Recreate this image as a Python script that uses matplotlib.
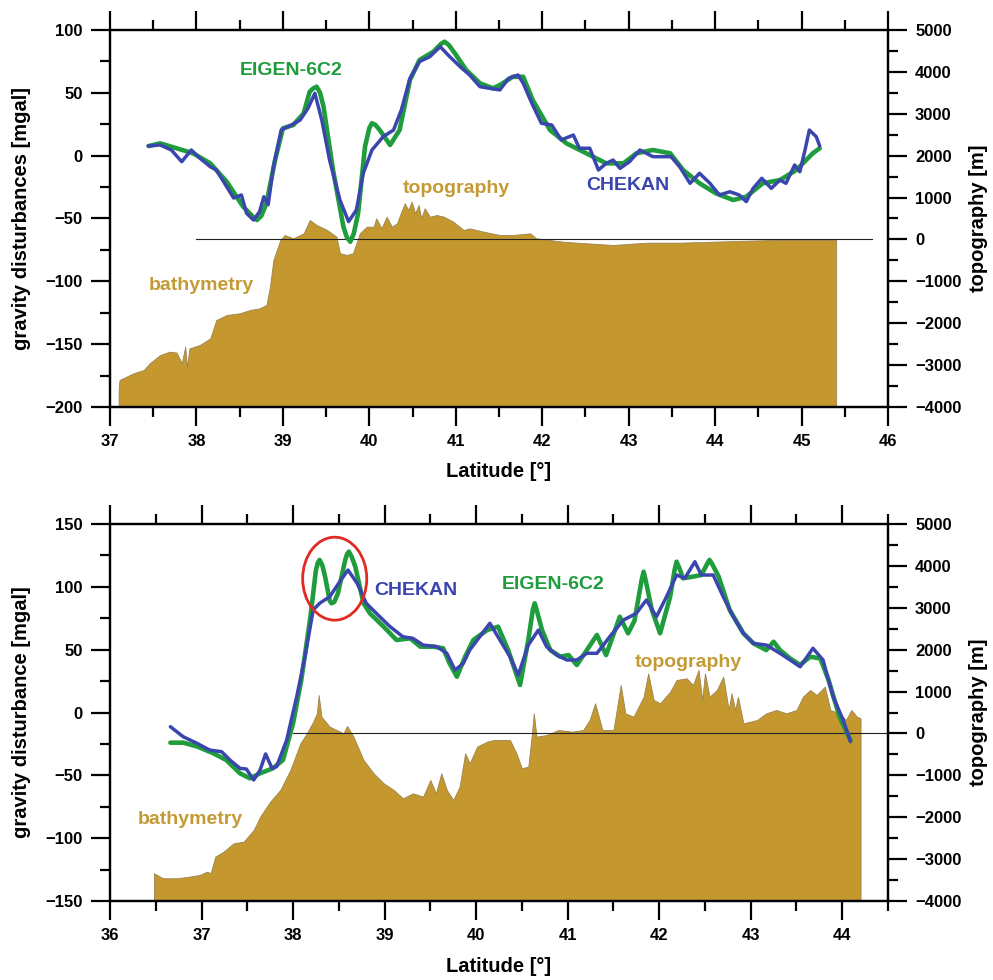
import matplotlib
matplotlib.use("Agg")
import matplotlib.pyplot as plt
from matplotlib.patches import Ellipse
from matplotlib.ticker import MultipleLocator

# ---------------- data: top profile ----------------
lat_chekan_top = [37.44,37.58,37.71,37.83,37.94,38.04,38.16,38.23,38.35,38.43,38.52,38.58,38.66,38.73,38.78,38.83,38.89,38.98,39.10,39.20,39.29,39.37,39.45,39.54,39.66,39.76,39.85,39.93,40.03,40.16,40.28,40.37,40.47,40.58,40.70,40.82,40.93,41.05,41.16,41.28,41.39,41.51,41.61,41.72,41.78,41.88,41.99,42.11,42.22,42.36,42.43,42.55,42.65,42.74,42.82,42.90,43.01,43.13,43.28,43.40,43.49,43.59,43.71,43.82,43.94,44.05,44.17,44.28,44.36,44.44,44.54,44.65,44.75,44.82,44.92,44.98,45.04,45.09,45.17,45.21]
g_chekan_top = [7.7,8.5,4.5,-4.8,4.5,-2,-8.8,-11.4,-24.7,-33.7,-31.3,-45.9,-51.2,-44.6,-32.7,-39,-8.8,20.4,24.4,28.4,37.7,49.6,28.4,-3.5,-35.3,-52.5,-43.2,-14,4.5,15.1,20.4,36.3,61.5,74.8,78.8,86.7,78.8,70.8,64.2,54.9,53.6,52.3,61.5,64.2,57.6,41.7,25.8,24.4,12.5,16.4,5.9,5.9,-11.4,-6.1,-3.5,-10.1,-4.8,4.5,-0.8,-0.8,-0.8,-8.8,-22,-14,-22,-31.3,-28.7,-31.3,-36.6,-26,-18,-26,-19.4,-22,-7.4,-12.8,4.5,20.4,15.1,7.7]

lat_eigen_top = [37.45,37.58,37.77,37.96,38.16,38.35,38.54,38.66,38.70,38.75,38.81,38.91,39.00,39.12,39.24,39.31,39.35,39.39,39.43,39.47,39.58,39.70,39.74,39.78,39.82,39.87,39.95,40.00,40.03,40.07,40.12,40.24,40.35,40.47,40.58,40.74,40.83,40.87,40.92,40.99,41.12,41.28,41.43,41.51,41.66,41.78,41.89,42.09,42.28,42.51,42.74,42.94,43.09,43.28,43.48,43.63,43.82,44.01,44.21,44.36,44.55,44.75,44.94,45.13,45.21]
g_eigen_top = [7.7,9.8,5.9,1.9,-6.1,-20.7,-40.6,-49,-51.2,-48,-37.9,-3.5,21.8,24.4,33.7,50.9,53.5,54.9,50,39,-11.4,-56.5,-65,-68.5,-62,-45.9,7.2,22,25.8,24.5,20.4,8.5,20.4,60.2,76.1,82.7,89,90.7,88,81.4,68.2,57.6,53.6,56.2,62.8,62.8,44.3,20.4,9.8,1.9,-6.1,-6.1,1.9,4.5,1.9,-11.4,-22,-30,-35.3,-32.7,-22,-19.4,-11.4,1.9,5.9]

lat_topo_top = [37.10,37.11,37.19,37.27,37.39,37.46,37.58,37.69,37.77,37.83,37.87,37.89,37.92,38.04,38.16,38.23,38.35,38.50,38.62,38.73,38.81,38.85,38.89,38.97,39.02,39.12,39.24,39.31,39.39,39.51,39.62,39.66,39.74,39.81,39.89,39.97,40.05,40.08,40.14,40.20,40.26,40.32,40.37,40.41,40.45,40.49,40.53,40.57,40.60,40.64,40.70,40.78,40.86,40.97,41.09,41.16,41.32,41.51,41.66,41.86,41.93,42.24,42.63,42.82,43.21,43.59,43.98,44.36,44.75,45.40]
h_topo_top = [-3553,-3355,-3276,-3195,-3116,-2956,-2758,-2679,-2700,-2956,-2560,-3037,-2600,-2519,-2360,-1923,-1803,-1763,-1684,-1644,-1564,-1127,-490,-13,106,27,146,465,345,226,67,-330,-370,-330,146,305,305,505,265,544,305,385,663,863,703,902,624,823,505,744,544,584,544,425,226,265,186,106,106,146,27,-53,-108,-132,-77,-77,-53,-30,-10,-10]

# ---------------- data: bottom profile ----------------
lat_chekan_bot = [36.66,36.80,36.95,37.09,37.22,37.31,37.42,37.49,37.57,37.64,37.70,37.77,37.82,37.93,38.04,38.13,38.22,38.29,38.40,38.51,38.60,38.70,38.80,38.91,39.06,39.20,39.31,39.42,39.57,39.68,39.77,39.86,39.93,40.04,40.15,40.26,40.37,40.46,40.57,40.68,40.77,40.88,40.99,41.10,41.21,41.32,41.46,41.61,41.75,41.86,41.97,42.08,42.19,42.28,42.39,42.46,42.59,42.70,42.81,42.92,43.03,43.17,43.32,43.43,43.54,43.68,43.79,43.90,44.01,44.09]
g_chekan_bot = [-11.3,-19.3,-24.5,-29.9,-31.2,-37.8,-44.4,-45,-53.7,-45.8,-33,-44.4,-43.1,-21.9,12.6,44.4,81.6,86.9,92.1,104.1,113.4,102.8,86.9,78.9,68.3,60.3,59,53.7,52.4,47.1,33.8,39.1,49.7,60.3,71,57.7,44.4,29.8,53.7,65.6,52.4,45.7,41.8,41.8,47.1,47.1,60.3,73.6,78.9,89.5,76.2,92.1,109.4,106.8,120,109.4,109.4,92.1,76.2,63,55,53.7,47.1,41.8,36.4,51.1,41.8,12.6,-6,-23.2]

lat_eigen_bot = [36.66,36.80,36.95,37.13,37.27,37.42,37.53,37.64,37.78,37.89,38.00,38.09,38.19,38.25,38.27,38.29,38.32,38.35,38.40,38.42,38.45,38.49,38.57,38.59,38.61,38.64,38.68,38.77,38.84,38.99,39.13,39.28,39.39,39.53,39.64,39.71,39.79,39.88,39.97,40.12,40.24,40.35,40.48,40.57,40.62,40.64,40.66,40.72,40.81,40.92,41.01,41.10,41.21,41.32,41.42,41.57,41.66,41.73,41.81,41.83,41.85,41.92,42.01,42.12,42.17,42.19,42.22,42.26,42.37,42.46,42.53,42.55,42.58,42.65,42.77,42.92,43.03,43.17,43.25,43.32,43.43,43.54,43.65,43.76,43.85,43.97,44.09]
g_eigen_bot = [-24,-24,-27,-32.5,-37.8,-48.4,-52.4,-48.4,-44.4,-37.8,-8.6,25.9,76.2,113.4,119,121.4,117,108.1,89,86.9,88,94.8,121.4,126,128,124,116,86.9,78.9,68.3,57.7,59,52.4,52.4,51.1,39.1,28.5,44.4,57.7,65.6,68.3,49.7,21.9,57.7,82,86.9,82,65.6,49.7,44.4,45.7,37.8,49.7,61.7,45.7,76.2,63,73,106,112,106,81.6,63,92.1,114,120,115,106.8,108.1,109.4,119,121.4,118,108.1,81.6,63,55,49.7,56.3,49.7,43,37.8,44.4,43,25.9,-3.3,-22]

lat_topo_bot = [36.48,36.58,36.73,36.87,36.98,37.06,37.10,37.15,37.24,37.35,37.46,37.57,37.64,37.75,37.86,37.97,38.08,38.15,38.22,38.26,38.28,38.31,38.40,38.55,38.59,38.66,38.77,38.88,38.99,39.10,39.20,39.31,39.42,39.50,39.56,39.62,39.68,39.75,39.82,39.88,39.93,40.01,40.12,40.19,40.37,40.44,40.50,40.57,40.61,40.63,40.66,40.77,40.90,41.05,41.17,41.24,41.30,41.35,41.38,41.50,41.53,41.58,41.63,41.72,41.83,41.88,41.94,42.01,42.12,42.19,42.30,42.37,42.43,42.47,42.50,42.55,42.63,42.70,42.76,42.79,42.83,42.86,42.92,43.07,43.17,43.28,43.39,43.50,43.57,43.65,43.72,43.81,43.87,43.97,44.04,44.10,44.16,44.20]
h_topo_bot = [-3338,-3457,-3457,-3418,-3378,-3299,-3338,-2941,-2822,-2623,-2583,-2304,-1987,-1629,-1349,-872,-235,4,281,481,918,400,162,4,178,-77,-633,-951,-1190,-1349,-1548,-1429,-1509,-1111,-1429,-951,-1349,-1588,-1270,-473,-713,-315,-196,-156,-156,-473,-831,-792,4,481,-77,-37,83,43,83,322,720,322,83,83,481,1157,481,400,878,1436,799,720,998,1276,1316,1157,1515,799,1435,878,1037,1356,560,958,560,878,242,322,481,560,481,560,878,1037,918,1117,560,481,322,560,400,361]

# ---------------- style ----------------
plt.rcParams['font.family'] = ['Liberation Sans', 'DejaVu Sans']
plt.rcParams['font.weight'] = 'bold'
C_GREEN = '#1f9d3d'
C_BLUE = '#3a46ad'
C_TOPO = '#c4982f'
C_TOPO_TXT = '#c49a35'
W, H = 993, 980

fig = plt.figure(figsize=(W / 100, H / 100), dpi=100)


def setup(ax, tw, xlim, ylim, yleft_ticks, line_x0, line_x1):
    ax.set_xlim(*xlim)
    ax.set_ylim(*ylim)
    tw.set_ylim(-4000, 5000)
    ax.set_zorder(tw.get_zorder() + 1)
    ax.patch.set_visible(False)
    ax.xaxis.set_major_locator(MultipleLocator(1))
    ax.xaxis.set_minor_locator(MultipleLocator(0.5))
    ax.set_yticks(yleft_ticks)
    ax.yaxis.set_minor_locator(MultipleLocator(25))
    tw.yaxis.set_major_locator(MultipleLocator(1000))
    tw.yaxis.set_minor_locator(MultipleLocator(500))
    for a in (ax, tw):
        for s in a.spines.values():
            s.set_linewidth(1.6)
        a.tick_params(which='major', direction='out', length=13.5, width=1.6,
                      labelsize=12, pad=6)
        a.tick_params(which='minor', direction='out', length=7, width=1.6)
    ax.tick_params(axis='x', which='both', top=True, labeltop=False)
    ax.tick_params(axis='y', which='both', right=False)
    for lbl in ax.get_xticklabels() + ax.get_yticklabels() + tw.get_yticklabels():
        lbl.set_fontweight('bold')
    tw.set_xlim(*xlim)
    tw.plot([line_x0, line_x1], [0, 0], color='#222222', lw=0.8, zorder=3)
    ax.set_xlabel('Latitude [°]', fontsize=14.5, fontweight='bold')


def curves(ax, tw, lt, ht, le, ge, lc, gc):
    tw.fill_between(lt, -4000, ht, color=C_TOPO, lw=0.6, edgecolor='#9a8450', zorder=1)
    ax.plot(le, ge, color=C_GREEN, lw=3.3, solid_joinstyle='round',
            solid_capstyle='round', zorder=3)
    ax.plot(lc, gc, color=C_BLUE, lw=2.5, solid_joinstyle='round',
            solid_capstyle='round', zorder=4)


def label(ax, x, y, s, c):
    ax.text(x, y, s, color=c, fontsize=14, fontweight='bold', ha='center', va='center')


# ---------------- top panel ----------------
ax1 = fig.add_axes([110 / W, 1 - 407 / H, 778 / W, 377 / H])
tw1 = ax1.twinx()
setup(ax1, tw1, (37, 46), (-200, 100), [-200, -150, -100, -50, 0, 50, 100], 38.0, 45.82)
curves(ax1, tw1, lat_topo_top, h_topo_top, lat_eigen_top, g_eigen_top,
       lat_chekan_top, g_chekan_top)
label(ax1, 39.10, 68, 'EIGEN-6C2', C_GREEN)
label(ax1, 41.01, -26.5, 'topography', C_TOPO_TXT)
label(ax1, 42.99, -23.4, 'CHEKAN', C_BLUE)
label(ax1, 38.06, -103, 'bathymetry', C_TOPO_TXT)
ax1.xaxis.set_label_coords(0.5, -0.145)

# ---------------- bottom panel ----------------
ax2 = fig.add_axes([110 / W, 1 - 901 / H, 778 / W, 377 / H])
tw2 = ax2.twinx()
setup(ax2, tw2, (36, 44.5), (-150, 150), [-150, -100, -50, 0, 50, 100, 150], 38.0, 44.5)
curves(ax2, tw2, lat_topo_bot, h_topo_bot, lat_eigen_bot, g_eigen_bot,
       lat_chekan_bot, g_chekan_bot)
label(ax2, 39.34, 96.7, 'CHEKAN', C_BLUE)
label(ax2, 40.84, 101.5, 'EIGEN-6C2', C_GREEN)
label(ax2, 42.32, 39.4, 'topography', C_TOPO_TXT)
label(ax2, 36.88, -84.8, 'bathymetry', C_TOPO_TXT)
ax2.add_patch(Ellipse((38.455, 106.5), 0.70, 66, fill=False, edgecolor='#e02a22',
                      lw=2.0, zorder=5))
ax2.xaxis.set_label_coords(0.5, -0.148)

# axis titles (vertical)
fig.text(22 / W, 1 - 218 / H, 'gravity disturbances [mgal]', rotation=90, ha='center',
         va='center', fontsize=14.5, fontweight='bold')
fig.text(978 / W, 1 - 218 / H, 'topography [m]', rotation=90, ha='center',
         va='center', fontsize=14.5, fontweight='bold')
fig.text(22 / W, 1 - 712 / H, 'gravity disturbance [mgal]', rotation=90, ha='center',
         va='center', fontsize=14.5, fontweight='bold')
fig.text(978 / W, 1 - 712 / H, 'topography [m]', rotation=90, ha='center',
         va='center', fontsize=14.5, fontweight='bold')

fig.savefig('out.png', dpi=100, facecolor='white')
